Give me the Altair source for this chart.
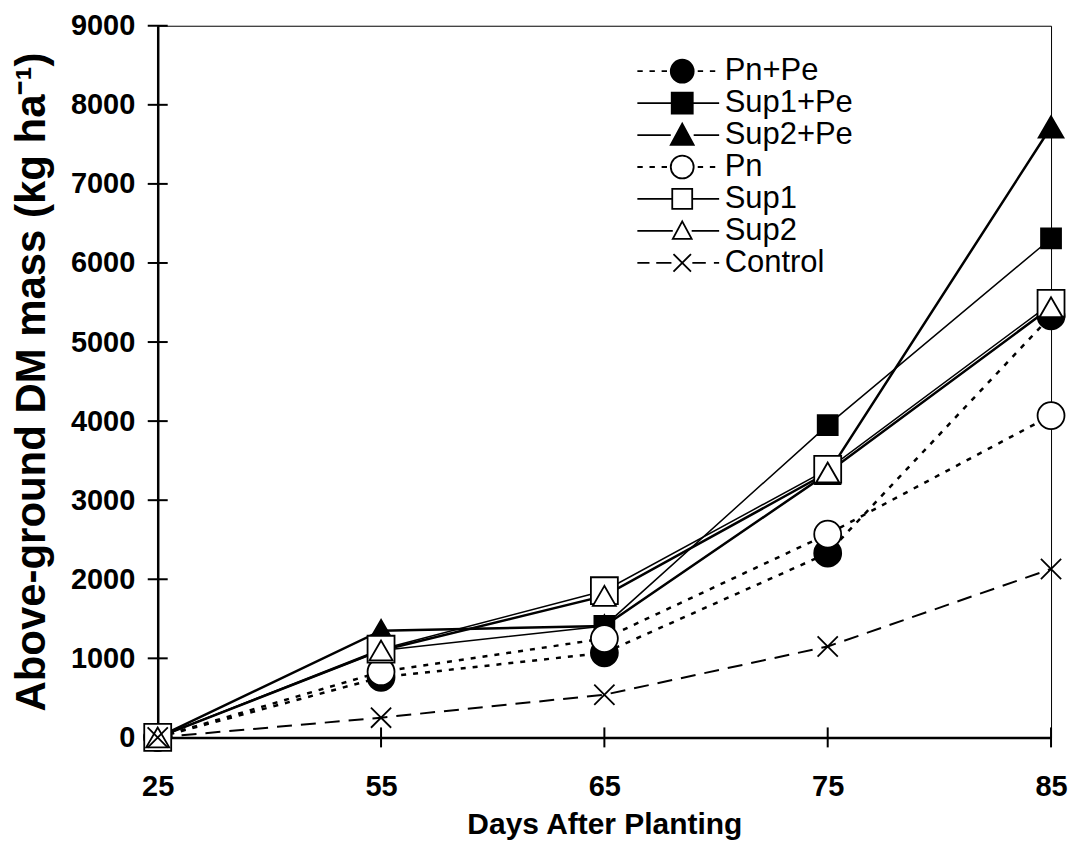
import altair as alt
import pandas as pd

days = [25, 55, 65, 75, 85]
series_names = ["Pn+Pe", "Sup1+Pe", "Sup2+Pe", "Pn", "Sup1", "Sup2", "Control"]
pn_pe = [0, 760, 1070, 2330, 5330]
sup1_pe = [0, 1100, 1410, 3950, 6310]
sup2_pe = [0, 1350, 1410, 3340, 7720]
pn = [0, 830, 1250, 2570, 4070]
sup1 = [0, 1115, 1855, 3390, 5490]
sup2 = [0, 1100, 1790, 3350, 5440]
control = [0, 250, 540, 1150, 2130]
y_ticks = [0, 1000, 2000, 3000, 4000, 5000, 6000, 7000, 8000, 9000]

values = [pn_pe, sup1_pe, sup2_pe, pn, sup1, sup2, control]
rows = []
for name, vals in zip(series_names, values):
    for d, v in zip(days, vals):
        rows.append({"series": name, "day": d, "mass": v})
df = pd.DataFrame(rows)
ytick_df = pd.DataFrame({"day": [days[0]] * len(y_ticks), "mass": y_ticks})
xtick_df = pd.DataFrame({"day": days, "mass": [y_ticks[0]] * len(days)})

FONT = "Liberation Sans"
XMARK = "M-0.75,-0.75L0.75,0.75M0.75,-0.75L-0.75,0.75"

# styles: shape, fill, size, line width, dash
style = {
    "Pn+Pe": ("circle", "black", 729, 2.5, [5, 7]),
    "Sup1+Pe": ("square", "black", 400, 1.5, None),
    "Sup2+Pe": ("triangle-up", "black", 620, 2.5, None),
    "Pn": ("circle", "white", 729, 2.5, [5, 7]),
    "Sup1": ("square", "white", 729, 1.5, None),
    "Sup2": ("triangle-up", "white", 530, 2.5, None),
    "Control": (XMARK, "white", 729, 2.0, [15, 9]),
}


def circ(r):
    return f"M{r},0A{r},{r},0,1,1,{-r},0A{r},{r},0,1,1,{r},0Z"


def sq(h):
    return f"M{-h},{-h}L{h},{-h}L{h},{h}L{-h},{h}Z"


def tri(h):
    return f"M0,{-h}L{h},{h * 0.85}L{-h},{h * 0.85}Z"


def xm(h):
    return f"M{-h},{-h}L{h},{h}M{h},{-h}L{-h},{h}"


L0, L1 = -3.33, 2.74


def solid(m):
    return f"M{L0},0L{-m},0M{m},0L{L1},0"


def dotted(m):
    return (f"M{L0},0L{L0 + 0.4},0M{L0 + 0.9},0L{L0 + 1.3},0M{L0 + 1.8},0L{L0 + 2.2},0"
            f"M{m + 0.25},0L{m + 0.65},0M{m + 1.15},0L{m + 1.55},0")


def dashed(m):
    return (f"M{L0},0L{L0 + 0.9},0M{L0 + 1.4},0L{-m - 0.15},0"
            f"M{m + 0.1},0L{m + 1.1},0M{m + 1.7},0L{L1},0")


legend_paths = [
    dotted(0.9) + circ(0.85),
    solid(0.78) + sq(0.78),
    solid(0.85) + tri(0.85),
    dotted(0.9) + circ(0.85),
    solid(0.74) + sq(0.74),
    solid(0.7) + tri(0.7),
    dashed(0.65) + xm(0.65),
]
legend_fills = [style[s][1] for s in series_names]

base = alt.Chart(df)
xscale = alt.Scale(type="point", domain=days, padding=0)
yscale = alt.Scale(domain=[0, 9000], nice=False)

main_x_axis = alt.Axis(orient="bottom", domain=True, domainWidth=2.5, domainColor="black",
                       ticks=False, labelFont=FONT, labelFontSize=29, labelFontWeight="bold",
                       labelColor="black", labelPadding=35, labelAngle=0, grid=False,
                       title="Days After Planting", titleFont=FONT, titleFontSize=30,
                       titleFontWeight="bold", titleColor="black", titlePadding=8)
main_y_axis = alt.Axis(orient="left", values=y_ticks, domain=True, domainWidth=2.5, domainColor="black",
                       ticks=False, labelFont=FONT, labelFontSize=29, labelFontWeight="bold",
                       labelColor="black", labelPadding=23, grid=False, format="d",
                       title="Above-ground DM mass (kg ha⁻¹)", titleFont=FONT, titleFontSize=42,
                       titleFontWeight="bold", titleColor="black", titlePadding=17)

X = alt.X("day:O", scale=xscale, axis=main_x_axis)
Y = alt.Y("mass:Q", scale=yscale, axis=main_y_axis)

layers = []
# axis tick marks crossing the axes
layers.append(alt.Chart(ytick_df).mark_tick(orient="horizontal", color="black", thickness=2,
                                             size=20, opacity=1).encode(x=X, y=Y))
layers.append(alt.Chart(xtick_df).mark_tick(orient="vertical", color="black", thickness=2,
                                            size=20, opacity=1).encode(x=X, y=Y))
for name in series_names:
    shape, fill, size, lw, dash = style[name]
    kw = dict(color="black", strokeWidth=lw)
    if dash:
        kw["strokeDash"] = dash
    layers.append(
        base.transform_filter(alt.datum.series == name).mark_line(**kw).encode(x=X, y=Y)
    )
for name in series_names:
    shape, fill, size, lw, dash = style[name]
    layers.append(
        base.transform_filter(alt.datum.series == name).mark_point(
            shape=shape, filled=True, fill=fill, stroke="black", strokeWidth=1.8,
            size=size, opacity=1).encode(x=X, y=Y)
    )

leg = alt.Legend(orient="none", legendX=510, legendY=30, title=None, symbolSize=729,
                 symbolStrokeWidth=1.8, labelFont=FONT, symbolOpacity=1,
                 labelFontSize=31, labelColor="black", labelOffset=27, rowPadding=0,
                 labelLimit=0, padding=0)
legend_layer = base.transform_filter("false").mark_point(
    filled=False, stroke="black", strokeWidth=1.8, opacity=1).encode(
    shape=alt.Shape("series:N", scale=alt.Scale(domain=series_names, range=legend_paths), legend=leg),
    fill=alt.Fill("series:N", scale=alt.Scale(domain=series_names, range=legend_fills), legend=leg),
)
layers.append(legend_layer)

chart = alt.layer(*layers).properties(
    width=895, height=713, padding={"left": 2, "top": 3, "right": 0, "bottom": 0}
).configure_view(stroke="black", strokeWidth=1, strokeOpacity=1)

chart.save("out.html", embed_options={"renderer": "svg", "actions": False})
